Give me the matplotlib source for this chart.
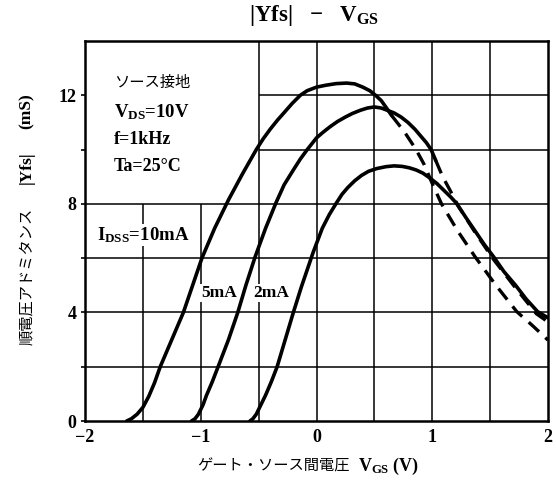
import matplotlib
matplotlib.use("Agg")
import matplotlib.pyplot as plt

plt.rcParams['mathtext.fontset'] = 'custom'
plt.rcParams['mathtext.rm'] = 'Liberation Serif:bold'
plt.rcParams['mathtext.it'] = 'Liberation Serif:bold'
plt.rcParams['mathtext.bf'] = 'Liberation Serif:bold'

serif = 'Liberation Serif'
jp = ['Noto Sans CJK JP', 'DejaVu Sans']

# IDSS = 10mA
vgs_10 = [-1.64, -1.60, -1.55, -1.50, -1.45, -1.40, -1.35, -1.25, -1.15, -1.07,
          -0.99, -0.88, -0.76, -0.64, -0.52, -0.46, -0.40, -0.34, -0.28, -0.21,
          -0.14, -0.08, 0.0, 0.08, 0.17, 0.26, 0.33, 0.40, 0.46, 0.51,
          0.56, 0.61, 0.65]
yfs_10 = [0.0, 0.08, 0.25, 0.5, 0.9, 1.4, 2.0, 3.0, 4.0, 5.0,
          6.0, 7.1, 8.15, 9.1, 10.0, 10.4, 10.75, 11.07, 11.36, 11.7,
          12.0, 12.17, 12.3, 12.37, 12.43, 12.45, 12.42, 12.3, 12.17, 12.0,
          11.8, 11.5, 11.25]
vgs_10d = [0.65, 0.76, 0.86, 0.93, 1.0, 1.08, 1.22, 1.37, 1.55, 1.73, 1.87, 2.0]
yfs_10d = [11.25, 10.65, 10.0, 9.45, 8.75, 8.0, 7.0, 6.05, 5.0, 4.03, 3.5, 2.98]

# IDSS = 5mA
vgs_5 = [-1.08, -1.05, -1.02, -0.98, -0.95, -0.90, -0.85, -0.76, -0.68, -0.61,
         -0.53, -0.44, -0.35, -0.28, -0.20, -0.14, -0.08, 0.0, 0.06, 0.12,
         0.18, 0.25, 0.31, 0.38, 0.44, 0.50, 0.56, 0.61, 0.67, 0.73,
         0.79, 0.85, 0.90, 0.95, 0.99, 1.03]
yfs_5 = [0.0, 0.08, 0.25, 0.6, 0.95, 1.45, 2.0, 3.0, 4.0, 5.0,
         6.05, 7.1, 8.04, 8.7, 9.25, 9.65, 10.0, 10.43, 10.65, 10.85,
         11.03, 11.2, 11.33, 11.45, 11.53, 11.57, 11.53, 11.45, 11.35, 11.2,
         11.0, 10.75, 10.5, 10.25, 10.0, 9.6]
vgs_5d = [1.03, 1.09, 1.16, 1.22, 1.37, 1.53, 1.72, 1.9, 2.0]
yfs_5d = [9.6, 9.0, 8.45, 7.95, 6.95, 5.95, 4.9, 3.95, 3.65]

# IDSS = 2mA
vgs_2 = [-0.575, -0.55, -0.52, -0.48, -0.44, -0.39, -0.34, -0.27, -0.20, -0.13,
         -0.07, -0.03, 0.05, 0.11, 0.17, 0.22, 0.27, 0.33, 0.39, 0.45,
         0.52, 0.60, 0.67, 0.74, 0.80, 0.86, 0.92, 0.98, 1.04, 1.10,
         1.16, 1.21, 1.29, 1.37, 1.45, 1.53, 1.62, 1.72, 1.81, 1.91, 2.0]
yfs_2 = [0.0, 0.08, 0.25, 0.6, 0.95, 1.45, 2.0, 3.0, 4.0, 4.95,
         5.7, 6.2, 7.1, 7.6, 8.02, 8.35, 8.6, 8.85, 9.05, 9.2,
         9.3, 9.37, 9.4, 9.38, 9.33, 9.25, 9.13, 8.95, 8.75, 8.5,
         8.25, 8.02, 7.5, 7.0, 6.5, 6.05, 5.5, 5.0, 4.5, 4.03, 3.8]

x_ticks = [-2, -1, 0, 1, 2]
x_labels = ['\u22122', '\u22121', '0', '1', '2']
y_ticks = [0, 4, 8, 12]
y_minor = [2, 6, 10]
x_grid_full = [-0.5, 0, 0.5, 1, 1.5]
x_grid_low = [-1.5, -1]
y_grid_full = [2, 4, 6, 8]
y_grid_right = [10, 12]

fig = plt.figure(figsize=(5.56, 4.88), dpi=100)
ax = fig.add_axes([85 / 556, 67 / 488, 463 / 556, 380 / 488])
ax.set_xlim(-2, 2)
ax.set_ylim(0, 14)

gkw = dict(color='black', lw=1.1, zorder=1)
ax.vlines(x_grid_full, 0, 14, **gkw)
ax.vlines(x_grid_low, 0, 8, **gkw)
ax.hlines(y_grid_full, -2, 2, **gkw)
ax.hlines(y_grid_right, -0.5, 2, **gkw)

lkw = dict(color='black', lw=2.6, zorder=4, solid_capstyle='round',
           solid_joinstyle='round')
ax.plot(vgs_10, yfs_10, **lkw)
ax.plot(vgs_5, yfs_5, **lkw)
ax.plot(vgs_2, yfs_2, **lkw)
dkw = dict(color='black', lw=2.4, zorder=4, dashes=(4.2, 2.6))
ax.plot(vgs_10d, yfs_10d, **dkw)
ax.plot(vgs_5d, yfs_5d, **dkw)

ax.set_xticks(x_ticks)
ax.set_xticklabels(x_labels)
ax.set_yticks(y_ticks)
ax.set_yticks(y_minor, minor=True)
ax.tick_params(axis='x', length=0, pad=6)
ax.tick_params(axis='y', which='both', direction='out', length=3, width=1.2, pad=3)
for lab in ax.get_xticklabels() + ax.get_yticklabels():
    lab.set_fontfamily(serif)
    lab.set_fontweight('bold')
    lab.set_fontsize(13)
for s in ax.spines.values():
    s.set_linewidth(1.8)

# text block
ax.text(-1.75, 12.3, 'ソース接地', family=jp, fontsize=11, va='baseline')
ax.text(-1.75, 11.2, r'$\mathrm{V_{DS}}$=10V', family=serif, weight='bold',
        fontsize=13.5, va='baseline')
ax.text(-1.75, 10.22, 'f=1kHz', family=serif, weight='bold', fontsize=13, va='baseline')
ax.text(-1.75, 9.2, 'Ta=25°C', family=serif, weight='bold', fontsize=13, va='baseline')

bb = dict(facecolor='white', edgecolor='none', pad=1.0)
ax.text(-1.90, 6.67, r'$\mathrm{I_{DSS}}$=10mA', family=serif, weight='bold',
        fontsize=13.5, va='baseline', bbox=bb, zorder=3)
ax.text(-0.995, 4.57, '5mA', family=serif, weight='bold', fontsize=12.5,
        va='baseline', bbox=bb, zorder=3)
ax.text(-0.55, 4.57, '2mA', family=serif, weight='bold', fontsize=12.5,
        va='baseline', bbox=bb, zorder=3)

fig.text(314 / 556, 1 - 16 / 488, r'|Yfs|   $-$   $\mathrm{V_{GS}}$', family=serif,
         weight='bold', fontsize=16.5, ha='center', va='center')

fig.text(273 / 556, 1 - 466 / 488, 'ゲート・ソース間電圧', family=jp, fontsize=11,
         ha='center', va='center')
fig.text(358 / 556, 1 - 466 / 488, r'$\mathrm{V_{GS}}$ (V)', family=serif,
         weight='bold', fontsize=13, ha='left', va='center')

fig.text(27 / 556, 1 - 276 / 488, '順電圧アドミタンス', family=jp, fontsize=11,
         rotation=90, ha='center', va='center')
fig.text(27 / 556, 1 - 168 / 488, '|Yfs|', family=serif, weight='bold',
         fontsize=12.5, rotation=90, ha='center', va='center')
fig.text(27 / 556, 1 - 111 / 488, '(mS)', family=serif, weight='bold',
         fontsize=12.5, rotation=90, ha='center', va='center')

fig.savefig('out.png', dpi=100)
